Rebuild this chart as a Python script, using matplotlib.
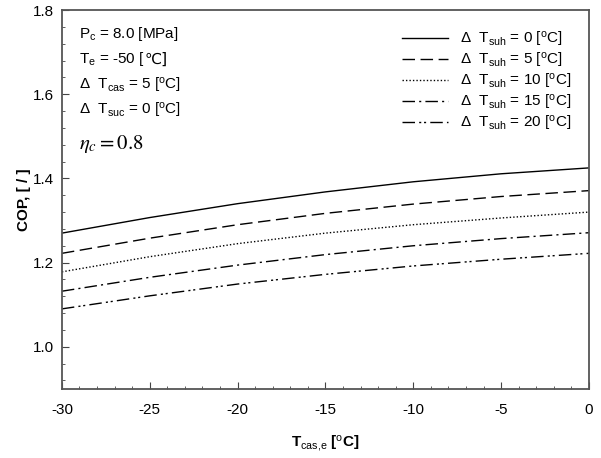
import numpy as np
from matplotlib import pyplot as plt
from matplotlib.ticker import MultipleLocator

plt.rcParams['font.family'] = ['Liberation Sans', 'DejaVu Sans']
plt.rcParams['mathtext.fontset'] = 'custom'
plt.rcParams['mathtext.rm'] = 'Liberation Sans'
plt.rcParams['mathtext.it'] = 'Liberation Sans:italic'
plt.rcParams['mathtext.bf'] = 'Liberation Sans:bold'
plt.rcParams['axes.unicode_minus'] = False

# data
t_cas = [-30, -25, -20, -15, -10, -5, 0]
cop_suh0 = [1.270, 1.307, 1.340, 1.368, 1.392, 1.411, 1.425]
cop_suh5 = [1.222, 1.258, 1.290, 1.317, 1.339, 1.357, 1.371]
cop_suh10 = [1.178, 1.214, 1.245, 1.270, 1.290, 1.306, 1.320]
cop_suh15 = [1.132, 1.165, 1.194, 1.219, 1.240, 1.257, 1.271]
cop_suh20 = [1.090, 1.121, 1.149, 1.172, 1.192, 1.208, 1.222]
suh_labels = ['0', '5', '10', '15', '20']

fig = plt.figure(figsize=(6.01, 4.58), dpi=100)
ax = fig.add_axes([0.103, 0.151, 0.877, 0.827])

styles = [
    dict(linestyle='-'),
    dict(linestyle=(0, (9, 4))),
    dict(linestyle=(0, (1, 1.5))),
    dict(linestyle=(0, (9, 3, 1.5, 3))),
    dict(linestyle=(0, (9, 3, 1.5, 2, 1.5, 3))),
]
series = [cop_suh0, cop_suh5, cop_suh10, cop_suh15, cop_suh20]
for ys, lab, st in zip(series, suh_labels, styles):
    ax.plot(t_cas, ys, color='black', lw=1.0,
            label=r'$\Delta$  T$_{\rm suh}$ = ' + lab + r' [$^{\rm o}$C]', **st)

ax.set_xlim(-30, 0)
ax.set_ylim(0.9, 1.8)
ax.xaxis.set_major_locator(MultipleLocator(5))
ax.xaxis.set_minor_locator(MultipleLocator(1))
ax.yaxis.set_minor_locator(MultipleLocator(0.04))
ax.set_yticks([1.0, 1.2, 1.4, 1.6, 1.8])
ax.set_yticklabels(['1.0', '1.2', '1.4', '1.6', '1.8'])
ax.tick_params(which='both', direction='in', labelsize=11, color='#444444')
ax.tick_params(which='major', length=5)
ax.tick_params(which='minor', length=2.5)
ax.tick_params(axis='x', pad=10)
ax.tick_params(axis='y', pad=6)
for sp in ax.spines.values():
    sp.set_color('#555555')
    sp.set_linewidth(1.3)

ax.set_xlabel(r'T$_{\rm cas{,}e}$ [$^{\rm o}$C]', fontsize=11, fontweight='bold', labelpad=12)
ax.set_ylabel('COP, [ / ]', fontsize=11, fontweight='bold', labelpad=1)

ann = [
    r'P$_{\rm c}$ = 8.0 [MPa]',
    r'T$_{\rm e}$ = -50 [',
    r'$\Delta$  T$_{\rm cas}$ = 5 [$^{\rm o}$C]',
    r'$\Delta$  T$_{\rm suc}$ = 0 [$^{\rm o}$C]',
]
txts = []
for i, s in enumerate(ann):
    txts.append(ax.text(0.033, 0.962 - i * 0.068, s, transform=ax.transAxes,
                        fontsize=11, va='baseline'))
    txts[-1].set_y(0.962 - i * 0.068 - 0.035)

# the degree-Celsius sign is not in Liberation Sans: put it after the text
fig.canvas.draw()
bb = txts[1].get_window_extent().transformed(ax.transAxes.inverted())
ax.text(bb.x1, txts[1].get_position()[1], '℃]', transform=ax.transAxes,
        fontsize=11, va='baseline', family=['DejaVu Sans'])

ax.text(0.033, 0.675, r'$\eta_c = 0.8$', transform=ax.transAxes, fontsize=15,
        va='top', math_fontfamily='stix')

leg = ax.legend(loc='upper left', bbox_to_anchor=(0.62, 0.985), frameon=False,
                fontsize=11, handlelength=3.0, labelspacing=0.14, handletextpad=0.8)

fig.savefig('out.png', dpi=100)
